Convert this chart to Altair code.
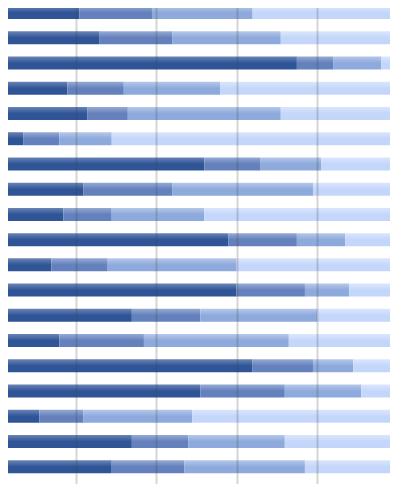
import altair as alt
import pandas as pd

categories = [f"Item {i}" for i in range(1, 21)]
seg1 = [21, 26, 75, 18, 23, 7, 52, 22, 17, 58, 14, 60, 34, 16, 64, 51, 11, 34, 29, 23]
seg2 = [18, 18, 9, 14, 10, 9, 14, 22, 12, 17, 14, 17, 17, 21, 15, 21, 11, 14, 18, 17]
seg3 = [25, 27, 12, 24, 38, 13, 15, 35, 23, 12, 32, 11, 29, 36, 10, 19, 27, 24, 30, 31]
seg4 = [36, 29, 4, 44, 29, 71, 19, 21, 48, 13, 40, 12, 20, 27, 11, 9, 51, 28, 23, 29]

series = [seg1, seg2, seg3, seg4]
rows = []
for k, vals in enumerate(series):
    for c, v in zip(categories, vals):
        rows.append({"cat": c, "seg": k, "value": v})
df = pd.DataFrame(rows)

palette = [
    ("#6a84b6", "#2f5597"),
    ("#95aad4", "#6481bd"),
    ("#b6c8ea", "#8eaadc"),
    ("#dbe6fd", "#c4d7fb"),
]

def grad(light, dark):
    return alt.Gradient(
        gradient="linear",
        stops=[
            alt.GradientStop(offset=0, color=light),
            alt.GradientStop(offset=0.5, color=dark),
            alt.GradientStop(offset=1, color=dark),
        ],
        x1=0, x2=0, y1=0, y2=1,
    )

step = 479.5 / 19
r0 = 4.5 - step / 2
r1 = r0 + 20 * step
pin = 1 - 13 / step

yscale = alt.Scale(domain=categories, range=[r0, r1], paddingInner=pin, paddingOuter=pin / 2)
xscale = alt.Scale(domain=[0, 100], range=[-13, 389.5], nice=False, zero=False)

xaxis = alt.Axis(
    grid=True, gridColor="#404040", gridOpacity=0.22, gridWidth=2,
    values=[0, 20, 40, 60, 80, 100], domain=False, ticks=False, labels=False,
    title=None, zindex=1,
)
yaxis = alt.Axis(domain=False, ticks=False, labels=False, title=None, grid=False)

base = alt.Chart(df).transform_stack(
    stack="value", groupby=["cat"], as_=["x0", "x1"], sort=[alt.SortField("seg")]
)

layers = []
for k, (light, dark) in enumerate(palette):
    layers.append(
        base.transform_filter(alt.datum.seg == k)
        .mark_bar(color=grad(light, dark))
        .encode(
            x=alt.X("x0:Q", scale=xscale, axis=xaxis),
            x2="x1:Q",
            y=alt.Y("cat:N", scale=yscale, axis=yaxis, sort=categories),
        )
    )

chart = alt.layer(*layers).properties(
    width=382, height=476, autosize=alt.AutoSizeParams(type="none"), padding=0,
    background="white",
).configure_view(stroke=None)

chart.save("out.html", embed_options={"renderer": "svg", "actions": False})
